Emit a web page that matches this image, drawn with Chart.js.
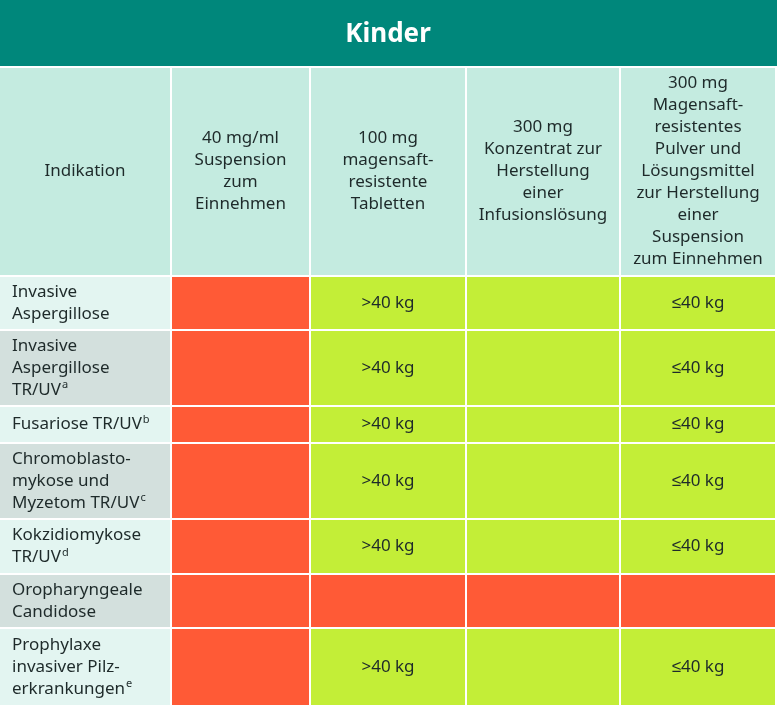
<!DOCTYPE html>
<html><head><meta charset="utf-8">
<script src="https://cdn.jsdelivr.net/npm/chart.js@4"></script>
<style>html,body{margin:0;padding:0;background:#fff}#w{width:779px;height:712px}</style>
</head><body><div id="w"><canvas id="c"></canvas></div>
<script>
const title = "Kinder";
const columns = ["Indikation","40 mg/ml\nSuspension\nzum\nEinnehmen","100 mg\nmagensaft-\nresistente\nTabletten","300 mg\nKonzentrat zur\nHerstellung\neiner\nInfusionslösung","300 mg\nMagensaft-\nresistentes\nPulver und\nLösungsmittel\nzur Herstellung\neiner\nSuspension\nzum Einnehmen"];
const rowLabels = ["Invasive\nAspergillose","Invasive\nAspergillose\nTR/UV","Fusariose TR/UV","Chromoblasto-\nmykose und\nMyzetom TR/UV","Kokzidiomykose\nTR/UV","Oropharyngeale\nCandidose","Prophylaxe\ninvasiver Pilz-\nerkrankungen"];
const rowSup = ["","a","b","c","d","","e"];
const col1 = ["no","no","no","no","no","no","no"];
const col2 = [">40 kg",">40 kg",">40 kg",">40 kg",">40 kg","no",">40 kg"];
const col3 = ["yes","yes","yes","yes","yes","no","yes"];
const col4 = ["≤40 kg","≤40 kg","≤40 kg","≤40 kg","≤40 kg","no","≤40 kg"];
const colEdges = [0,172,311,467,621,777];
const rowEdges = [68,277,331,407,444,520,575,629,707];
const FONT = '"Noto Sans", sans-serif';

const tablePlugin = {
  id:'table',
  afterDraw(chart){
    const ctx = chart.ctx, xs = chart.scales.x, ys = chart.scales.y;
    const X = v=>xs.getPixelForValue(v), Y = v=>ys.getPixelForValue(v);
    ctx.save();
    // title
    ctx.fillStyle='#00877b'; ctx.fillRect(X(0),Y(0),X(777)-X(0),Y(66)-Y(0));
    ctx.fillStyle='#fff'; ctx.font='bold 26px '+FONT; ctx.textAlign='center'; ctx.textBaseline='middle';
    ctx.fillText(title,X(388),Y(35));
    const cols=[col1,col2,col3,col4];
    // header
    for(let c=0;c<5;c++){
      const x0=X(colEdges[c]), x1=X(colEdges[c+1]-2), y0=Y(rowEdges[0]), y1=Y(rowEdges[1]-2);
      ctx.fillStyle='#c4ebe0'; ctx.fillRect(x0,y0,x1-x0,y1-y0);
      const lines=columns[c].split('\n'); ctx.fillStyle='#1e2a2a'; ctx.font='17px '+FONT;
      const lh=22, cy=(y0+y1)/2-(lines.length-1)*lh/2;
      lines.forEach((l,i)=>ctx.fillText(l,(x0+x1)/2,cy+i*lh));
    }
    for(let r=0;r<rowLabels.length;r++){
      const y0=Y(rowEdges[r+1]), y1=Y(rowEdges[r+2]-2);
      let x0=X(0), x1=X(colEdges[1]-2);
      ctx.fillStyle = r%2? '#d3e0dd':'#e3f5f1'; ctx.fillRect(x0,y0,x1-x0,y1-y0);
      const lines=rowLabels[r].split('\n'); ctx.fillStyle='#1e2a2a'; ctx.font='17px '+FONT; ctx.textAlign='left';
      const lh=22, cy=(y0+y1)/2-(lines.length-1)*lh/2;
      lines.forEach((l,i)=>{
        ctx.font='17px '+FONT; ctx.fillText(l,x0+12,cy+i*lh);
        if(i===lines.length-1 && rowSup[r]){const w=ctx.measureText(l).width; ctx.font='11px '+FONT; ctx.fillText(rowSup[r],x0+13+w,cy+i*lh-5);}
      });
      ctx.textAlign='center';
      for(let c=0;c<4;c++){
        const v=cols[c][r]; const a=X(colEdges[c+1]), b=X(colEdges[c+2]-2);
        ctx.fillStyle = v==='no'?'#ff5a36':'#c3ee37'; ctx.fillRect(a,y0,b-a,y1-y0);
        if(v!=='no'&&v!=='yes'){ctx.fillStyle='#1e2a2a'; ctx.font='17px '+FONT; ctx.fillText(v,(a+b)/2,(y0+y1)/2);}
      }
    }
    ctx.restore();
  }
};
new Chart(document.getElementById('c'),{
  type:'scatter',
  data:{datasets:[{data:[],pointRadius:0}]},
  options:{responsive:true,maintainAspectRatio:false,animation:false,
    layout:{padding:0},
    plugins:{legend:{display:false},tooltip:{enabled:false}},
    scales:{x:{type:'linear',min:0,max:779,display:false},y:{type:'linear',min:0,max:712,reverse:true,display:false}}},
  plugins:[tablePlugin]
});
</script></body></html>
